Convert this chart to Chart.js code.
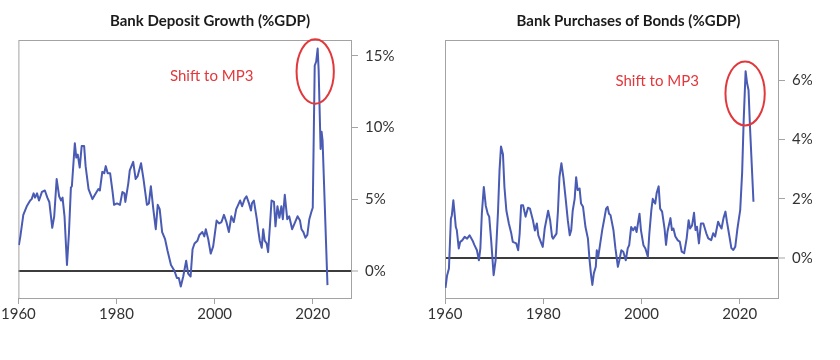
<!DOCTYPE html>
<html>
<head>
<meta charset="utf-8">
<script src="https://cdn.jsdelivr.net/npm/chart.js@4.4.1/dist/chart.umd.min.js"></script>
<style>
  body { margin: 0; background: #fff; }
  .wrap { position: relative; width: 840px; height: 360px; }
  .panel { position: absolute; top: 0; height: 360px; }
</style>
</head>
<body>
<div class="wrap">
  <div class="panel" style="left:0;width:402px"><canvas id="depChart" width="402" height="360"></canvas></div>
  <div class="panel" style="left:420px;width:392px"><canvas id="bondChart" width="392" height="360"></canvas></div>
</div>
<script>
// values (% of GDP)
var depYears = [1960.1, 1960.4, 1961.0, 1961.7, 1962.4, 1962.7, 1963.1, 1963.4, 1963.8, 1964.2, 1964.8, 1965.4, 1965.9, 1966.3, 1966.7, 1966.9, 1967.3, 1967.8, 1968.3, 1968.7, 1969.0, 1969.4, 1969.9, 1970.3, 1970.7, 1970.9, 1971.5, 1971.8, 1972.1, 1972.5, 1972.9, 1973.4, 1973.7, 1974.3, 1975.1, 1975.6, 1976.3, 1976.6, 1977.1, 1977.5, 1977.8, 1978.2, 1978.7, 1979.2, 1979.5, 1980.1, 1980.7, 1981.2, 1981.6, 1981.8, 1982.4, 1982.7, 1983.4, 1983.9, 1984.3, 1985.0, 1985.5, 1986.2, 1986.6, 1987.0, 1987.5, 1988.0, 1988.4, 1988.8, 1989.3, 1989.9, 1990.4, 1991.1, 1991.8, 1992.3, 1992.7, 1993.1, 1993.6, 1994.2, 1994.6, 1995.1, 1995.5, 1995.9, 1996.5, 1996.9, 1997.5, 1997.9, 1998.2, 1998.7, 1999.2, 1999.7, 2000.4, 2000.9, 2001.4, 2001.9, 2002.4, 2002.9, 2003.4, 2003.9, 2004.4, 2004.8, 2005.2, 2005.6, 2006.1, 2006.5, 2007.0, 2007.4, 2007.6, 2008.0, 2008.6, 2008.9, 2009.2, 2009.6, 2009.9, 2010.2, 2010.6, 2010.9, 2011.3, 2011.6, 2012.1, 2012.4, 2012.8, 2013.2, 2013.6, 2013.9, 2014.3, 2014.8, 2015.2, 2015.8, 2016.3, 2016.9, 2017.4, 2017.7, 2018.1, 2018.5, 2018.9, 2019.3, 2019.8, 2020.0, 2020.4, 2020.7, 2021.0, 2021.2, 2021.6, 2021.8, 2022.0, 2023.0];
var depValues = [1.8, 2.4, 3.9, 4.5, 4.9, 5.0, 5.4, 5.1, 5.4, 4.9, 5.5, 5.6, 5.1, 4.8, 3.6, 3.0, 3.8, 6.4, 5.2, 4.9, 5.1, 3.8, 0.4, 2.6, 5.8, 5.9, 8.9, 7.9, 8.1, 7.2, 8.7, 8.7, 7.3, 5.7, 5.0, 5.3, 5.7, 5.6, 6.9, 6.8, 7.3, 6.8, 6.8, 5.5, 4.6, 4.7, 4.6, 5.5, 5.4, 4.8, 6.1, 7.0, 7.6, 6.4, 6.6, 7.5, 6.4, 4.6, 4.7, 5.9, 4.3, 2.9, 4.6, 4.3, 2.7, 2.2, 1.4, 0.4, 0.0, -0.5, -0.5, -1.1, -0.4, 0.7, -0.2, -0.4, 1.5, 1.9, 2.1, 2.5, 2.7, 2.4, 2.9, 2.2, 1.2, 1.7, 3.5, 3.3, 3.4, 3.9, 3.4, 2.7, 3.8, 3.4, 4.3, 4.6, 4.9, 4.5, 5.0, 5.2, 4.7, 4.2, 4.7, 4.9, 3.6, 2.8, 2.1, 1.6, 2.9, 2.1, 1.9, 1.3, 3.3, 4.9, 4.8, 3.1, 4.5, 3.7, 4.5, 3.6, 5.3, 3.6, 3.8, 2.9, 3.3, 3.8, 3.5, 2.9, 2.7, 2.3, 2.5, 3.6, 4.2, 4.4, 14.3, 14.6, 15.5, 14.0, 8.5, 9.7, 9.1, -1.0];

var bondYears = [1960.1, 1960.4, 1960.8, 1961.2, 1961.4, 1961.7, 1961.9, 1962.2, 1962.4, 1962.8, 1963.1, 1963.5, 1964.0, 1964.5, 1965.0, 1965.6, 1966.0, 1966.5, 1966.9, 1967.2, 1967.5, 1967.9, 1968.3, 1968.7, 1969.0, 1969.4, 1969.9, 1970.3, 1970.8, 1971.1, 1971.4, 1971.8, 1972.1, 1972.5, 1973.0, 1973.5, 1973.8, 1974.5, 1974.9, 1975.2, 1975.5, 1975.9, 1976.4, 1976.9, 1977.3, 1977.9, 1978.3, 1978.7, 1979.0, 1979.5, 1979.9, 1980.3, 1981.0, 1981.4, 1981.8, 1982.0, 1982.7, 1983.0, 1983.3, 1983.7, 1984.1, 1984.6, 1985.0, 1985.4, 1985.7, 1986.0, 1986.4, 1986.7, 1987.0, 1987.4, 1987.7, 1988.1, 1988.6, 1989.1, 1989.4, 1989.7, 1990.0, 1990.3, 1990.7, 1990.9, 1991.2, 1991.5, 1992.0, 1992.5, 1992.8, 1993.1, 1993.4, 1993.7, 1994.3, 1994.7, 1995.2, 1995.5, 1995.9, 1996.3, 1996.8, 1997.2, 1997.5, 1997.9, 1998.3, 1998.7, 1999.0, 1999.6, 1999.9, 2000.4, 2000.8, 2001.3, 2001.6, 2002.0, 2002.3, 2002.8, 2003.1, 2003.5, 2003.8, 2004.2, 2004.7, 2005.0, 2005.3, 2005.9, 2006.2, 2006.5, 2006.9, 2007.4, 2007.8, 2008.2, 2008.7, 2009.2, 2009.6, 2009.9, 2010.3, 2010.7, 2011.0, 2011.3, 2011.7, 2012.1, 2012.6, 2013.2, 2013.6, 2014.2, 2014.6, 2015.0, 2015.6, 2015.9, 2016.3, 2016.7, 2017.1, 2017.4, 2017.8, 2018.3, 2018.7, 2019.1, 2019.5, 2019.8, 2020.1, 2020.5, 2020.8, 2021.2, 2021.5, 2021.8, 2022.1, 2022.8];
var bondValues = [-1.0, -0.6, -0.35, 1.33, 1.45, 1.95, 1.6, 1.05, 0.95, 0.33, 0.55, 0.6, 0.72, 0.66, 0.77, 0.6, 0.44, 0.27, -0.07, 0.33, 1.5, 2.4, 1.77, 1.5, 1.4, 0.6, -0.57, -0.07, 1.6, 2.96, 3.76, 3.5, 2.4, 1.6, 1.17, 0.83, 0.55, 0.5, 0.27, 0.83, 1.78, 1.78, 1.4, 1.7, 1.67, 1.28, 0.93, 1.17, 0.77, 0.55, 0.38, 1.0, 1.6, 1.28, 0.72, 0.66, 0.83, 1.6, 2.73, 3.2, 2.73, 1.95, 1.28, 0.77, 0.95, 1.6, 2.0, 2.73, 2.3, 2.35, 1.84, 1.73, 1.05, 0.66, 0.0, -0.51, -0.9, -0.51, -0.29, 0.27, 0.05, 0.38, 0.94, 1.39, 1.67, 1.73, 1.5, 1.45, 0.94, 0.33, -0.29, -0.07, 0.27, 0.22, -0.07, 0.33, 0.44, 1.05, 0.94, 1.05, 0.88, 1.5, 0.94, 0.44, 0.33, 0.05, 0.83, 1.6, 2.0, 1.84, 2.2, 2.42, 1.67, 1.57, 1.0, 0.45, 0.9, 1.35, 0.95, 1.0, 0.73, 0.6, 0.56, 0.22, 0.17, 0.67, 1.28, 1.0, 1.1, 1.53, 0.95, 1.06, 0.5, 1.17, 1.17, 0.84, 0.67, 0.61, 0.84, 0.73, 1.23, 1.12, 1.0, 1.35, 1.57, 1.23, 0.84, 0.34, 0.28, 0.39, 0.95, 1.29, 1.62, 2.9, 4.6, 6.3, 5.9, 5.66, 4.4, 1.9];

var yearTicks = [1960, 1980, 2000, 2020];
var depTicks = [0, 5, 10, 15];
var bondTicks = [0, 2, 4, 6];

var LINE = '#4a5bb4';
var RED = '#e2383c';
var FONT = 'Lato, "Open Sans", sans-serif';

// frame, note text and red ellipse (placed in data units)
var framePlugin = {
  id: 'frame',
  beforeDatasetsDraw: function(chart) {
    var a = chart.chartArea, c = chart.ctx;
    c.save();
    c.strokeStyle = '#a3a3a3';
    c.lineWidth = 1;
    c.strokeRect(a.left + 0.5, a.top + 0.5, a.right - a.left - 1, a.bottom - a.top);
    c.restore();
  },
  afterDatasetsDraw: function(chart, args, opts) {
    var n = opts.note;
    if (!n) return;
    var x = chart.scales.x, y = chart.scales.y, c = chart.ctx;
    c.save();
    c.fillStyle = RED;
    c.font = '15px ' + FONT;
    c.textAlign = 'center';
    c.textBaseline = 'middle';
    c.fillText(n.label, x.getPixelForValue(n.textX), y.getPixelForValue(n.textY));
    var cx = x.getPixelForValue(n.cx), cy = y.getPixelForValue(n.cy);
    var rx = Math.abs(x.getPixelForValue(n.cx + n.rx) - cx);
    var ry = Math.abs(y.getPixelForValue(n.cy + n.ry) - cy);
    c.strokeStyle = RED;
    c.lineWidth = 2;
    c.beginPath();
    c.ellipse(cx, cy, rx, ry, 0, 0, Math.PI * 2);
    c.stroke();
    c.restore();
  }
};

function makeChart(id, title, years, values, yTicks, yMin, yMax, note, padLeft, axisWidth) {
  var pts = years.map(function(yr, i) { return { x: yr, y: values[i] }; });
  return new Chart(document.getElementById(id), {
    type: 'line',
    data: {
      datasets: [{
        data: pts,
        borderColor: LINE,
        borderWidth: 2,
        pointRadius: 0,
        tension: 0,
        borderJoinStyle: 'round'
      }]
    },
    options: {
      responsive: false,
      animation: false,
      layout: { padding: { left: padLeft, right: 0, top: 0, bottom: 0 } },
      plugins: {
        legend: { display: false },
        tooltip: { enabled: false },
        title: {
          display: true,
          text: title,
          color: '#1b1b1b',
          font: { family: FONT, size: 15, weight: 'bold' },
          padding: { top: 12, bottom: 10 }
        },
        frame: { note: note }
      },
      scales: {
        x: {
          type: 'linear',
          min: 1960,
          max: 2028,
          afterBuildTicks: function(s) { s.ticks = yearTicks.map(function(v) { return { value: v }; }); },
          afterFit: function(s) { s.height = 62; },
          border: { display: false },
          grid: { drawOnChartArea: false, color: '#a3a3a3', tickLength: 6 },
          ticks: {
            color: '#333',
            font: { family: FONT, size: 15 },
            padding: 1,
            maxRotation: 0,
            callback: function(v) { return String(v); }
          }
        },
        y: {
          position: 'right',
          min: yMin,
          max: yMax,
          afterBuildTicks: function(s) { s.ticks = yTicks.map(function(v) { return { value: v }; }); },
          afterFit: function(s) { s.width = axisWidth; },
          border: { display: false },
          grid: {
            color: function(c) { return c.tick && c.tick.value === 0 ? '#3c3c3c' : 'rgba(0,0,0,0)'; },
            lineWidth: function(c) { return c.tick && c.tick.value === 0 ? 2 : 1; },
            tickColor: '#a3a3a3',
            tickWidth: 1,
            tickLength: 6
          },
          ticks: {
            color: '#333',
            font: { family: FONT, size: 15 },
            padding: 7,
            callback: function(v) { return v + '%'; }
          }
        }
      }
    },
    plugins: [framePlugin]
  });
}

makeChart('depChart', 'Bank Deposit Growth (%GDP)', depYears, depValues, depTicks, -1.9, 16.1,
  { label: 'Shift to MP3', textX: 1999.4, textY: 13.6, cx: 2020.5, cy: 13.9, rx: 3.8, ry: 2.25 }, 18, 50);

makeChart('bondChart', 'Bank Purchases of Bonds (%GDP)', bondYears, bondValues, bondTicks, -1.34, 7.35,
  { label: 'Shift to MP3', textX: 2003.2, textY: 5.95, cx: 2021.1, cy: 5.55, rx: 4.0, ry: 1.08 }, 25, 33);
</script>
</body>
</html>
